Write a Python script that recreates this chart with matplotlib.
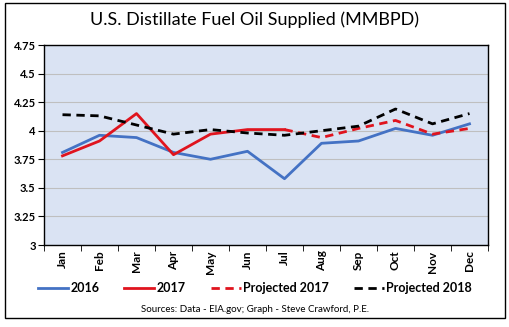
import matplotlib
matplotlib.use("Agg")
import matplotlib.pyplot as plt
from matplotlib.patches import Rectangle

months = ["Jan", "Feb", "Mar", "Apr", "May", "Jun",
          "Jul", "Aug", "Sep", "Oct", "Nov", "Dec"]
y2016 = [3.81, 3.96, 3.94, 3.81, 3.75, 3.82, 3.58, 3.89, 3.91, 4.02, 3.96, 4.06]
y2017 = [3.78, 3.91, 4.15, 3.79, 3.97, 4.01, 4.01]
proj2017 = [4.01, 3.94, 4.02, 4.09, 3.97, 4.02]
proj2018 = [4.14, 4.13, 4.05, 3.97, 4.01, 3.98, 3.96, 4.00, 4.04, 4.19, 4.06, 4.15]
yticks = [3, 3.25, 3.5, 3.75, 4, 4.25, 4.5, 4.75]

plt.rcParams['font.family'] = ['Lato', 'DejaVu Sans']

fig = plt.figure(figsize=(5.1, 3.27), dpi=100)
ax = fig.add_axes([44 / 510, 1 - 245 / 327, 444 / 510, 200 / 327])
ax.set_facecolor("#DAE3F3")

x = list(range(12))
ax.plot(x, y2016, color="#4472C4", lw=2, label="2016")
ax.plot(x[:7], y2017, color="#E0141E", lw=2, label="2017")
ax.plot(x[6:], proj2017, color="#E0141E", lw=2, ls=(0, (3, 2)), label="Projected 2017")
ax.plot(x, proj2018, color="black", lw=2, ls=(0, (3, 2)), label="Projected 2018")

ax.set_xlim(-0.5, 11.5)
ax.set_ylim(3, 4.75)
ax.set_yticks(yticks)
ax.set_yticklabels([f"{v:g}" for v in yticks], fontsize=8, fontweight="bold")
ax.set_xticks(x)
ax.set_xticklabels(months, rotation=90, fontsize=8.5, fontweight="bold")
ax.set_xticks([i - 0.5 for i in range(13)], minor=True)
ax.tick_params(axis="x", which="major", length=0, pad=4)
ax.tick_params(axis="x", which="minor", length=4, direction="out")
ax.tick_params(axis="y", length=4, direction="out", pad=2)
ax.grid(axis="y", color="#BFBFBF", lw=0.8)
ax.set_axisbelow(True)
for s in ax.spines.values():
    s.set_color("black")
    s.set_linewidth(1)

fig.suptitle("U.S. Distillate Fuel Oil Supplied (MMBPD)", y=0.965, fontsize=13)

handles, labels = ax.get_legend_handles_labels()
fig.legend(handles, labels, loc="center", bbox_to_anchor=(0.5, 1 - 288 / 327),
           ncol=4, frameon=False, prop={"size": 9, "weight": "bold"},
           handlelength=2.4, columnspacing=2.0, handletextpad=0.2)

fig.text(0.5, 1 - 309 / 327, "Sources: Data - EIA.gov; Graph - Steve Crawford, P.E.",
         ha="center", va="center", fontsize=7)

fig.patches.append(Rectangle((5 / 510, 1 - 318 / 327), 500 / 510, 315 / 327,
                             transform=fig.transFigure, fill=False,
                             edgecolor="black", lw=1))

fig.savefig("out.png", dpi=100)
